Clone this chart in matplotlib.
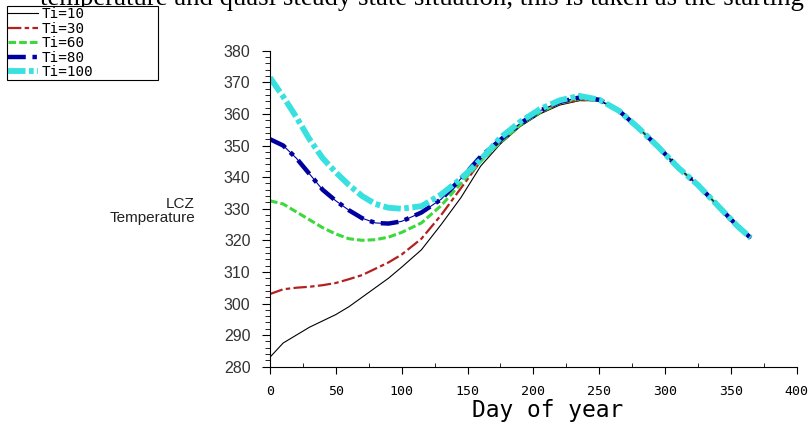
import matplotlib.pyplot as plt
from matplotlib.ticker import MultipleLocator

# jours de l'année
days = [0, 10, 20, 30, 40, 50, 60, 70, 80, 90, 100, 115, 130, 145, 160, 175,
        190, 205, 220, 235, 250, 265, 280, 295, 310, 325, 340, 355, 365]

# queue commune : toutes les courbes se rejoignent après ~250 jours
tail = [361.0, 355.5, 349.5, 343.0, 337.5, 331.0, 324.5, 320.8]

ti10 = [283.0, 287.5, 290.0, 292.5, 294.5, 296.5, 299.0, 302.0, 305.0, 308.0, 311.5,
        317.0, 325.0, 333.5, 343.5, 350.5, 356.0, 360.0, 362.8, 364.2, 364.2] + tail
ti30 = [303.0, 304.5, 305.0, 305.3, 305.8, 306.5, 307.7, 309.0, 311.0, 313.0, 315.5,
        320.5, 328.0, 336.5, 345.0, 351.5, 356.8, 360.5, 363.2, 364.4, 364.3] + tail
ti60 = [332.5, 331.5, 329.0, 326.5, 324.0, 322.0, 320.5, 320.0, 320.2, 321.0, 322.5,
        325.5, 331.0, 338.0, 345.0, 351.0, 356.5, 360.5, 363.5, 364.8, 364.3] + tail
ti80 = [352.0, 350.0, 346.0, 341.0, 336.0, 332.5, 329.5, 327.0, 325.5, 325.3, 326.0,
        328.8, 333.0, 339.5, 346.5, 351.8, 357.0, 361.0, 363.8, 365.2, 364.5] + tail
ti100 = [371.5, 365.5, 359.0, 352.0, 346.0, 341.5, 337.5, 334.0, 331.5, 330.3, 330.0,
         330.8, 334.5, 339.5, 345.5, 352.5, 357.5, 361.5, 364.3, 365.7, 364.5] + tail

labels = ["Ti=10", "Ti=30", "Ti=60", "Ti=80", "Ti=100"]

MONO = "DejaVu Sans Mono"

fig = plt.figure(figsize=(8.10, 4.24), dpi=100)
ax = fig.add_axes([0.3333, 0.1351, 0.6503, 0.7453])

h1, = ax.plot(days, ti10, color="black", lw=0.8)
h2, = ax.plot(days, ti30, color="#b42020", lw=1.6, dashes=(6, 1.5, 2, 1.5))
h3, = ax.plot(days, ti60, color="#3cd83c", lw=2.2, dashes=(2.5, 1.0))
ax.plot(days, ti80, color="#0000a0", lw=0.8)
h4, = ax.plot(days, ti80, color="#0000a0", lw=3.2, dashes=(4, 1.5, 1, 1.5))
h5, = ax.plot(days, ti100, color="#38e0e0", lw=4.2, dashes=(3, 0.6, 0.8, 0.6))

ax.set_xlim(0, 400)
ax.set_ylim(280, 380)
ax.spines["top"].set_visible(False)
ax.spines["right"].set_visible(False)
ax.xaxis.set_major_locator(MultipleLocator(50))
ax.xaxis.set_minor_locator(MultipleLocator(25))
ax.yaxis.set_major_locator(MultipleLocator(10))
ax.yaxis.set_minor_locator(MultipleLocator(2))
ax.tick_params(axis="x", which="major", direction="out", length=5, pad=8,
               labelsize=9.5, labelfontfamily=MONO)
ax.tick_params(axis="x", which="minor", direction="in", length=3)
ax.tick_params(axis="y", which="major", direction="out", length=6, pad=8,
               labelsize=11.5, labelfontfamily="Liberation Sans", labelcolor="#333333")
ax.tick_params(axis="y", which="minor", direction="out", length=3.5)

ax.set_xlabel("Day of year", fontsize=16.5, family=MONO)
ax.xaxis.set_label_coords((548 - 270) / 526.7, -0.102)
fig.text(195 / 810, 1 - 211 / 424, "LCZ\nTemperature", ha="right", va="center",
         fontsize=11, family="Liberation Sans", linespacing=0.95,
         multialignment="right", color="#222222")

# ligne de texte coupée en haut de l'image
fig.text(40 / 810, 1 - 5 / 424,
         "temperature and quasi steady state situation, this is taken as the starting",
         ha="left", va="baseline", fontsize=19.3, family="Liberation Serif")

leg = fig.legend([h1, h2, h3, h4, h5], labels, loc="lower left",
                 bbox_to_anchor=(7 / 810, 1 - 80 / 424, 151 / 810, 86 / 424),
                 mode="expand", frameon=True, fancybox=False, framealpha=1,
                 edgecolor="black", borderpad=0.05, borderaxespad=0,
                 handlelength=2.1, handletextpad=0.3, labelspacing=0.04,
                 prop={"family": MONO, "size": 10.3})
leg.get_frame().set_linewidth(0.8)

fig.savefig("out.png", dpi=100)
